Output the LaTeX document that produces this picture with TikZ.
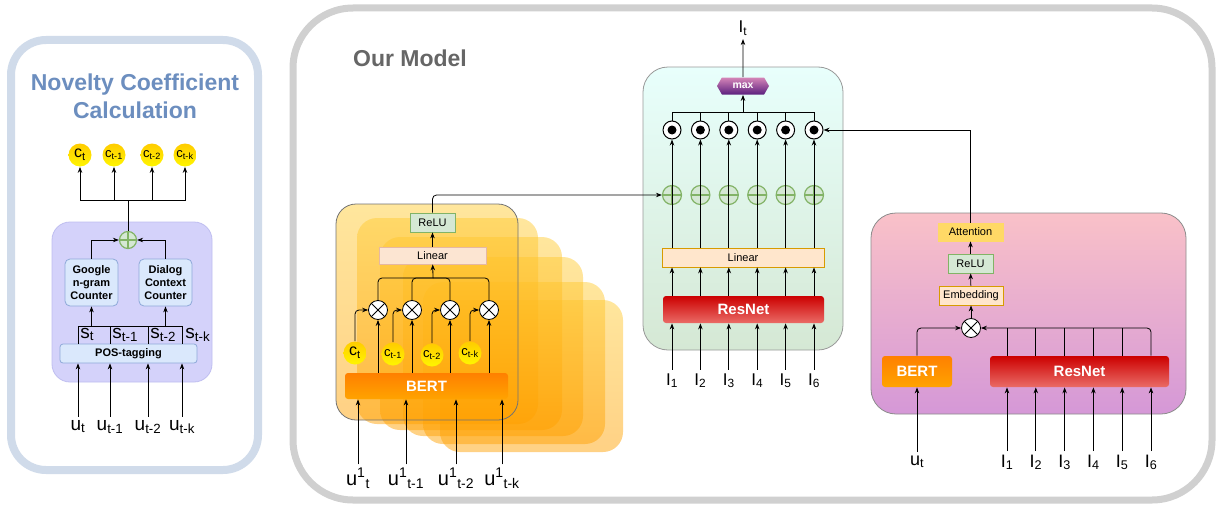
\documentclass[tikz,border=0pt]{standalone}
\usepackage{fontspec}
\setmainfont{Liberation Sans}
\usetikzlibrary{arrows.meta,shapes.symbols}

\definecolor{novline}{HTML}{D0DBEA}
\definecolor{novblue}{HTML}{6C8EBF}
\definecolor{lavfill}{HTML}{D4D2FA}
\definecolor{lavline}{HTML}{BFBEF0}
\definecolor{boxfill}{HTML}{DAE8FC}
\definecolor{boxline}{HTML}{8EA9D8}
\definecolor{plusfill}{HTML}{D5E8D4}
\definecolor{plusline}{HTML}{82B366}
\definecolor{peachfill}{HTML}{FFE6CC}
\definecolor{peachline}{HTML}{D79B00}
\definecolor{linfill}{HTML}{FCE5D2}
\definecolor{linline}{HTML}{E6B8A2}
\definecolor{outline}{HTML}{D0D0D0}
\definecolor{modelgray}{HTML}{666666}
\definecolor{attfill}{HTML}{FFD966}
\definecolor{cgold}{HTML}{FFCC00}
\definecolor{cyel}{HTML}{FFF500}
\definecolor{resred}{HTML}{CC0000}
\definecolor{resred2}{HTML}{EA6B66}
\definecolor{bertor}{HTML}{FF8000}
\definecolor{bertor2}{HTML}{FFA300}
\definecolor{maxtop}{HTML}{D585B8}
\definecolor{maxbot}{HTML}{5B1F7E}
\definecolor{stacktop}{HTML}{FFCC33}
\definecolor{stackbot}{HTML}{FFA000}
\definecolor{gtop}{HTML}{E8FFFC}
\definecolor{gbot}{HTML}{D5E8D4}
\definecolor{ptop}{HTML}{F9C1C8}
\definecolor{pbot}{HTML}{D598D7}

\newcommand{\fsz}[1]{\fontsize{#1}{#1}\selectfont}

\begin{document}
\begin{tikzpicture}[x=1pt,y=-1pt,line width=0.8pt,
		arr/.style={-{Stealth[length=6pt,width=4.5pt]}},
		lbl/.style={anchor=base,inner sep=3pt,font=\fsz{19}},
		cball/.style={circle,inner sep=0pt,minimum size=23pt,top color=cgold,bottom color=cyel},
		mulop/.style={circle,draw,fill=white,inner sep=0pt,minimum size=19pt,
			path picture={\draw (path picture bounding box.north west) -- (path picture bounding box.south east)
				(path picture bounding box.north east) -- (path picture bounding box.south west);}},
		addop/.style={circle,draw=plusline,fill=plusfill,line width=1.2pt,inner sep=0pt,minimum size=19pt,
			path picture={\draw[plusline,line width=1.2pt] (path picture bounding box.north) -- (path picture bounding box.south)
				(path picture bounding box.east) -- (path picture bounding box.west);}},
		dotop/.style={circle,draw,fill=white,line width=1pt,inner sep=0pt,minimum size=18pt,
			path picture={\fill[black] (path picture bounding box.center) circle (4.5pt);}},
		smallbox/.style={rectangle,inner sep=0pt,font=\fsz{11}},
		bluebox/.style={rectangle,draw=boxline,fill=boxfill,rounded corners=5pt,inner sep=0pt,
			font=\bfseries\fontsize{11}{13.3}\selectfont,align=center},
		resnet/.style={rectangle,rounded corners=3pt,inner sep=0pt,top color=resred,bottom color=resred2,
			text=white,font=\bfseries\fsz{15}},
		bert/.style={rectangle,rounded corners=3pt,inner sep=0pt,top color=bertor,bottom color=bertor2,
			text=white,font=\bfseries\fsz{15}},
		frame/.style={rounded corners=20pt,top color=stacktop,bottom color=stackbot,fill opacity=0.48}
	]
	\useasboundingbox (0,0) rectangle (1217,511);

	% panels
	\draw[novline,fill=white,line width=8pt,rounded corners=35pt] (11,40) rectangle (258,470);
	\draw[outline,fill=white,line width=7pt,rounded corners=60pt] (293,8) rectangle (1212,500);
	\draw[lavline,fill=lavfill,rounded corners=18pt] (52,222) rectangle (212,382);
	\shade[draw=black!40,rounded corners=25pt,top color=gtop,bottom color=gbot] (643,67) rectangle (843,350);
	\shade[draw=black!45,rounded corners=25pt,top color=ptop,bottom color=pbot] (871,213) rectangle (1186,414);
	\foreach \l/\t/\r/\b in {440/300/623/452,423/282/605/444,403/257/583/436,380/237/562/430,357/218/538/424}
		\shade[frame] (\l,\t) rectangle (\r,\b);
	\shade[frame,draw=black!55,draw opacity=1] (336,204) rectangle (518,420);

	\node[font=\bfseries\fontsize{23}{28}\selectfont,text=novblue,align=center] (novtitle) at (135,96)
		{Novelty Coefficient\\Calculation};
	\node[font=\bfseries\fsz{23},text=modelgray] (ourmodel) at (410,58) {Our Model};

	% novelty coefficient
	\node[cball,font=\fsz{16}] (ca) at (80,155) {c\textsubscript{t}};
	\node[cball,font=\fsz{13}] (cb) at (114,155) {c\textsubscript{t-1}};
	\node[cball,font=\fsz{13}] (cc) at (152,155) {c\textsubscript{t-2}};
	\node[cball,font=\fsz{13}] (cd) at (185,155) {c\textsubscript{t-k}};
	\node[addop,minimum size=17pt] (nplus) at (128,240) {};
	\node[bluebox,minimum width=53pt,minimum height=47pt] (goog) at (91.5,282.5) {Google\\n-gram\\Counter};
	\node[bluebox,minimum width=53pt,minimum height=47pt] (dlg) at (165.5,282.5) {Dialog\\Context\\Counter};
	\node[bluebox,rounded corners=3pt,minimum width=137pt,minimum height=19pt] (pos) at (128.5,353.5) {POS-tagging};
	\node[anchor=base west,inner sep=0pt,font=\fsz{19}] (sa) at (80,338) {s\textsubscript{t}};
	\node[anchor=base west,inner sep=0pt,font=\fsz{19}] (sb) at (112,338) {s\textsubscript{t-1}};
	\node[anchor=base west,inner sep=0pt,font=\fsz{19}] (sc) at (150,338) {s\textsubscript{t-2}};
	\node[anchor=base west,inner sep=0pt,font=\fsz{19}] (sd) at (185,338) {s\textsubscript{t-k}};
	\node[lbl] (ua) at (78,430) {u\textsubscript{t}};
	\node[lbl] (ub) at (110,430) {u\textsubscript{t-1}};
	\node[lbl] (uc) at (148,430) {u\textsubscript{t-2}};
	\node[lbl] (ud) at (182,430) {u\textsubscript{t-k}};
	\coordinate (sbar) at (128,326);
	\coordinate (cjoin) at (128,200);

	\foreach \u in {ua,ub,uc,ud} {
		\draw[arr] (\u) -- (pos.south -| \u);
		\draw (pos.north -| \u) -- (sbar -| \u);
	}
	\draw (sbar -| ua) -- (sbar -| ud);
	\draw[arr] (sbar -| goog) -- (goog);
	\draw[arr] (sbar -| dlg) -- (dlg);
	\draw[arr] (goog) |- (nplus);
	\draw[arr] (dlg) |- (nplus);
	\draw (nplus) -- (cjoin);
	\foreach \c in {ca,cb,cc,cd}
		\draw[arr] (cjoin) -| (\c);

	% stacked encoder
	\node[smallbox,draw=plusline,fill=plusfill,minimum width=45pt,minimum height=19pt] (lrelu) at (432.5,222.5) {ReLU};
	\node[smallbox,draw=linline,fill=linfill,minimum width=107pt,minimum height=17pt] (llin) at (432.5,255.5) {Linear};
	\coordinate (ljoin) at (433,278);
	\foreach \i/\xx in {1/378,2/412,3/450,4/489}
		\node[mulop] (x\i) at (\xx,310) {};
	\node[cball,font=\fsz{16}] (lc1) at (355,353) {c\textsubscript{t}};
	\node[cball,font=\fsz{13}] (lc2) at (393,354) {c\textsubscript{t-1}};
	\node[cball,font=\fsz{13}] (lc3) at (432,355) {c\textsubscript{t-2}};
	\node[cball,font=\fsz{13}] (lc4) at (470,353) {c\textsubscript{t-k}};
	\node[bert,minimum width=163pt,minimum height=26pt] (lbert) at (426.5,386) {BERT};
	\node[lbl,font=\fsz{20}] (lu1) at (358,485) {u\textsuperscript{1}\textsubscript{t}};
	\node[lbl,font=\fsz{20}] (lu2) at (406,485) {u\textsuperscript{1}\textsubscript{t-1}};
	\node[lbl,font=\fsz{20}] (lu3) at (456,485) {u\textsuperscript{1}\textsubscript{t-2}};
	\node[lbl,font=\fsz{20}] (lu4) at (502,485) {u\textsuperscript{1}\textsubscript{t-k}};

	\foreach \i in {1,...,4} {
		\draw[arr] (lu\i) -- (lbert.south -| lu\i);
		\draw[arr] (lbert.north -| x\i) -- (x\i);
		\draw[arr,rounded corners=4pt] (lc\i) |- (x\i);
		\draw[rounded corners=4pt] (x\i) |- (ljoin);
	}
	\draw[arr] (ljoin) -- (llin);
	\draw[arr] (llin) -- (lrelu);

	% image branch
	\node[smallbox,draw=attfill,fill=attfill,minimum width=65pt,minimum height=18pt] (att) at (970.5,232) {Attention};
	\node[smallbox,draw=plusline,fill=plusfill,minimum width=45pt,minimum height=19pt] (prelu) at (970.5,263.5) {ReLU};
	\node[smallbox,draw=peachline,fill=peachfill,minimum width=64pt,minimum height=19pt] (emb) at (971,295.5) {Embedding};
	\node[mulop] (pmul) at (971,328) {};
	\node[bert,minimum width=70pt,minimum height=31pt] (pbert) at (917,371.5) {BERT};
	\node[resnet,minimum width=179pt,minimum height=31pt] (pres) at (1079.5,371.5) {ResNet};
	\node[lbl,font=\fsz{18}] (put) at (917,465) {u\textsubscript{t}};
	\foreach \i in {1,...,6}
		\node[lbl,font=\fsz{18}] (q\i) at ({1007+28.8*(\i-1)},467) {I\textsubscript{\i}};

	\draw[arr] (put) -- (pbert.south -| put);
	\foreach \i in {1,...,6}
		\draw[arr] (q\i) -- (pres.south -| q\i);
	\foreach \i in {1,...,5}
		\draw (pres.north -| q\i) -- (q\i |- pmul);
	\draw[arr,rounded corners=4pt] (pres.north -| q6) |- (pmul);
	\draw[arr,rounded corners=4pt] (pbert) |- (pmul);
	\draw[arr] (pmul) -- (emb);
	\draw[arr] (emb) -- (prelu);
	\draw[arr] (prelu) -- (att);

	% fusion
	\node[signal,signal to=east and west,signal pointer angle=120,minimum width=52pt,minimum height=17pt,
		inner sep=0pt,top color=maxtop,bottom color=maxbot,text=white,font=\bfseries\fsz{10.5}] (mx) at (743,86) {max};
	\node[lbl,font=\fsz{17}] (itop) at (743,33) {I\textsubscript{t}};
	\coordinate (gjoin) at (743,112);
	\foreach \i in {1,...,6} {
		\node[dotop] (o\i) at ({672+28.4*(\i-1)},130) {};
		\node[addop] (p\i) at ({672+28.4*(\i-1)},195) {};
		\node[lbl,font=\fsz{17}] (i\i) at ({672+28.4*(\i-1)},385) {I\textsubscript{\i}};
	}
	\node[smallbox,draw=peachline,fill=peachfill,minimum width=162pt,minimum height=19pt] (glin) at (743,257.5) {Linear};
	\node[resnet,minimum width=161pt,minimum height=27pt] (gres) at (743.5,309.5) {ResNet};

	\foreach \i in {1,...,6} {
		\draw[arr] (i\i) -- (gres.south -| i\i);
		\draw[arr] (gres.north -| o\i) -- (glin.south -| o\i);
		\draw[arr] (glin.north -| o\i) -- (o\i);
		\draw (o\i) |- (gjoin);
	}
	\draw[arr] (gjoin) -- (mx);
	\draw[arr] (mx) -- (itop);
	\draw[arr,rounded corners=4pt] (lrelu) |- (p1);
	\draw[arr] (att) |- (o6);
\end{tikzpicture}
\end{document}
